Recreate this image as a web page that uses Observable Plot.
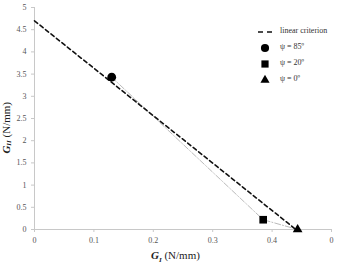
<!DOCTYPE html>
<html>
<head>
<meta charset="utf-8">
<script src="https://cdn.jsdelivr.net/npm/d3@7"></script>
<script src="https://cdn.jsdelivr.net/npm/@observablehq/plot@0.6"></script>
<style>
  body { margin: 0; background: #fff; }
  #wrap { position: relative; width: 340px; height: 264px; font-family: "Liberation Serif", "DejaVu Serif", serif; }
  #wrap > svg { position: absolute; left: 0; top: 0; }
  .ttl { position: absolute; font-size: 11px; color: #222; white-space: nowrap; line-height: 11px; }
  .ttl b { font-style: italic; }
  .ttl sub { font-size: 7px; font-weight: bold; font-style: italic; }
  #yt { writing-mode: vertical-rl; transform: rotate(180deg); }
  #legend { position: absolute; left: 255px; top: 25px; font-size: 8px; color: #333; }
  #legend .row { position: relative; height: 16px; }
  #legend .sym { position: absolute; left: 0; width: 20px; height: 14px; }
  #legend .lab { position: absolute; left: 25px; top: 1px; white-space: nowrap; }
</style>
</head>
<body>
<div id="wrap"></div>
<script>
// Data
const xTicks = [0, 0.1, 0.2, 0.3, 0.4, 0.5];
const xTickLabels = ["0", "0.1", "0.2", "0.3", "0.4", "0"];
const yTicks = [0, 0.5, 1, 1.5, 2, 2.5, 3, 3.5, 4, 4.5, 5];
const yTickLabels = ["0", "0.5", "1", "1.5", "2", "2.5", "3", "3.5", "4", "4.5", "5"];
const criterionGI = [0, 0.44];
const criterionGII = [4.7, 0];
const seriesNames = ["ψ = 85º", "ψ = 20º", "ψ = 0º"];
const seriesSymbols = ["circle", "square", "triangle"];
const pointGI = [0.13, 0.385, 0.443];
const pointGII = [3.43, 0.22, 0];

const criterion = criterionGI.map((g, i) => ({x: g, y: criterionGII[i]}));
const points = pointGI.map((g, i) => ({x: g, y: pointGII[i], name: seriesNames[i], symbol: seriesSymbols[i]}));

const axisColor = "#c8c8c8";
const labelColor = "#555";
const symbolRadius = {circle: 4.4, square: 4.3, triangle: 3.6};

const plot = Plot.plot({
  width: 340,
  height: 264,
  marginLeft: 34,
  marginRight: 9,
  marginTop: 7,
  marginBottom: 35,
  style: { fontFamily: "Liberation Serif, serif", fontSize: "8px", background: "transparent" },
  x: { domain: [0, 0.5] },
  y: { domain: [0, 5] },
  r: { type: "identity" },
  symbol: { type: "identity" },
  marks: [
    Plot.ruleY([0], { stroke: axisColor, strokeWidth: 1 }),
    Plot.ruleX([0], { stroke: axisColor, strokeWidth: 1 }),
    Plot.axisX({ ticks: xTicks, tickFormat: (d) => xTickLabels[xTicks.indexOf(d)], tickSize: 3, stroke: axisColor, fill: labelColor, tickPadding: 5, label: null, fontSize: 8 }),
    Plot.axisY({ ticks: yTicks, tickFormat: (d) => yTickLabels[yTicks.indexOf(d)], tickSize: 3, stroke: axisColor, fill: labelColor, tickPadding: 5, label: null, fontSize: 8 }),
    Plot.line(points, { x: "x", y: "y", stroke: "#a8a8a8", strokeWidth: 0.8, strokeDasharray: "6,2,1,2" }),
    Plot.line(criterion, { x: "x", y: "y", stroke: "#111", strokeWidth: 1.6, strokeDasharray: "4,3" }),
    Plot.dot(points, { x: "x", y: "y", symbol: "symbol", r: (d) => symbolRadius[d.symbol], fill: "#000", stroke: "none" })
  ]
});
const wrap = document.getElementById("wrap");
wrap.appendChild(plot);

// Axis titles
const xt = document.createElement("div");
xt.className = "ttl";
xt.innerHTML = "<b>G</b><sub>I</sub> (N/mm)";
xt.style.left = "151px";
xt.style.top = "250px";
wrap.appendChild(xt);

const yt = document.createElement("div");
yt.className = "ttl";
yt.id = "yt";
yt.innerHTML = "<b>G</b><sub>II</sub> (N/mm)";
yt.style.left = "1px";
yt.style.top = "102px";
wrap.appendChild(yt);

// Legend
const legend = document.createElement("div");
legend.id = "legend";
const rows = [{label: "linear criterion", sym: "dash"}].concat(seriesNames.map((n, i) => ({label: n, sym: seriesSymbols[i]})));
rows.forEach(r => {
  const row = document.createElement("div");
  row.className = "row";
  let svg;
  if (r.sym === "dash") {
    svg = '<svg class="sym" width="20" height="14"><line x1="3" y1="7" x2="19" y2="7" stroke="#111" stroke-width="1.6" stroke-dasharray="5,4"/></svg>';
  } else {
    const type = r.sym === "circle" ? d3.symbolCircle : r.sym === "square" ? d3.symbolSquare : d3.symbolTriangle;
    const size = r.sym === "triangle" ? 36 : 52;
    const s = d3.symbol(type, size)();
    svg = '<svg class="sym" width="20" height="14"><path transform="translate(10,7)" d="' + s + '" fill="#000"/></svg>';
  }
  row.innerHTML = svg + '<span class="lab">' + r.label + '</span>';
  legend.appendChild(row);
});
wrap.appendChild(legend);
</script>
</body>
</html>
